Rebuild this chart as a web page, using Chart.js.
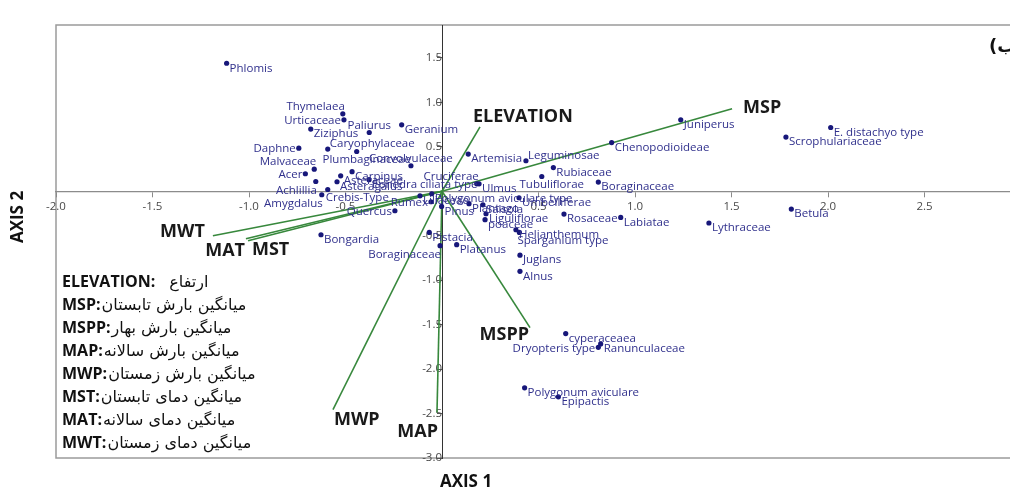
<!DOCTYPE html>
<html>
<head>
<meta charset="utf-8">
<script src="https://cdn.jsdelivr.net/npm/chart.js@4"></script>
<style>
  html, body { margin: 0; padding: 0; background: #fff; overflow: hidden; }
  #wrap { width: 1024px; height: 496px; }
</style>
</head>
<body>
<div id="wrap"><canvas id="biplot" width="1024" height="496"></canvas></div>
<script>
// taxa scores on the first two axes
var taxa = [
    'Phlomis', 'Thymelaea', 'Urticaceae', 'Ziziphus', 'Paliurus', 'Geranium', 'Daphne',
    'Caryophylaceae', 'Plumbaginaceae', 'Convolvulaceae', 'Malvaceae', 'Acer', 'Achlillia',
    'Crebis-Type', 'Amygdalus', 'Carpinus', 'Asteraceae', 'Asteragalus', 'Ephedra ciliata type',
    'Cruciferae', 'Ulmus', 'Artemisia', 'Leguminosae', 'Rubiaceae', 'Chenopodioideae',
    'Juniperus', 'Scrophulariaceae', 'E. distachyo type', 'Tubuliflorae', 'Boraginaceae',
    'Polygonum aviculare type', 'Umbelliferae', 'Rumex', 'Liliaceae', 'Pinus', 'Plantago',
    'Salsola', 'Liguliflorae', 'poaceae', 'Rosaceae', 'Labiatae', 'Helianthemum',
    'Sparganium type', 'Juglans', 'Alnus', 'Pistacia', 'Platanus', 'Boraginaceae', 'Bongardia',
    'Quercus', 'Lythraceae', 'Betula', 'cyperaceaea', 'Ranunculaceae', 'Dryopteris type',
    'Polygonum aviculare', 'Epipactis'
];
var axis1 = [
    -1.116, -0.514, -0.508, -0.680, -0.377, -0.209, -0.742,
    -0.592, -0.442, -0.161, -0.662, -0.708, -0.654,
    -0.592, -0.623, -0.466, -0.525, -0.544, -0.378,
    0.180, 0.192, 0.136, 0.435, 0.577, 0.879,
    1.237, 1.782, 2.014, 0.517, 0.810,
    -0.053, 0.399, -0.057, -0.114, -0.002, 0.140,
    0.212, 0.228, 0.223, 0.632, 0.926, 0.383,
    0.401, 0.404, 0.404, -0.066, 0.076, -0.010, -0.627,
    -0.244, 1.383, 1.810, 0.641, 0.822, 0.810,
    0.428, 0.603
];
var axis2 = [
    1.440, 0.871, 0.803, 0.699, 0.661, 0.747, 0.485,
    0.474, 0.447, 0.287, 0.249, 0.197, 0.110,
    0.020, -0.039, 0.220, 0.174, 0.107, 0.130,
    0.084, 0.084, 0.418, 0.343, 0.267, 0.548,
    0.803, 0.609, 0.717, 0.166, 0.103,
    -0.028, -0.073, -0.118, -0.051, -0.171, -0.140,
    -0.152, -0.253, -0.320, -0.256, -0.294, -0.433,
    -0.463, -0.719, -0.901, -0.463, -0.601, -0.612, -0.489,
    -0.219, -0.357, -0.200, -1.601, -1.717, -1.755,
    -2.211, -2.312
];

// environmental variables (arrow tips)
var variables = ['ELEVATION', 'MSP', 'MSPP', 'MAP', 'MWP', 'MST', 'MAT', 'MWT'];
var varAxis1 = [0.197, 1.503, 0.456, -0.026, -0.565, -1.016, -1.005, -1.187];
var varAxis2 = [0.725, 0.927, -1.534, -2.489, -2.455, -0.534, -0.556, -0.500];

var legendNames = [
    'ارتفاع', 'میانگین بارش تابستان', 'میانگین بارش بهار', 'میانگین بارش سالانه',
    'میانگین بارش زمستان', 'میانگین دمای تابستان', 'میانگین دمای سالانه', 'میانگین دمای زمستان'
];

var xTickValues = [-2.0, -1.5, -1.0, -0.5, 0, 0.5, 1.0, 1.5, 2.0, 2.5];
var yTickValues = [1.5, 1.0, 0.5, 0, -0.5, -1.0, -1.5, -2.0, -2.5, -3.0];

// where each taxon name sits around its dot
var labelSide = [
    'r', 'lu', 'l', 'r', 'u', 'r', 'l',
    'ru', 'd', 'u', 'lu', 'l', 'ld',
    'rd', 'ld', 'r', 'r', 'r', 'r',
    'lu', 'r', 'r', 'ru', 'r', 'r',
    'r', 'r', 'r', 'd', 'r',
    'r', 'r', 'l', 'r', 'r', 'r',
    'r', 'r', 'r', 'r', 'r', 'r',
    'rd', 'r', 'r', 'r', 'r', 'ld', 'r',
    'l', 'r', 'r', 'r', 'r', 'l',
    'r', 'r'
];

function placeLabel(side, x, y) {
    switch (side) {
        case 'l': return {align: 'right', x: x - 3, y: y + 1};
        case 'lu': return {align: 'right', x: x + 2, y: y - 7};
        case 'ld': return {align: 'right', x: x + 1, y: y + 9};
        case 'ru': return {align: 'left', x: x + 2, y: y - 5};
        case 'rd': return {align: 'left', x: x - 2, y: y + 8};
        case 'u': return {align: 'center', x: x, y: y - 7};
        case 'd': return {align: 'center', x: x + 10, y: y + 8};
        default: return {align: 'left', x: x + 3, y: y + 5};
    }
}

// label offsets for the arrow names
var varLabelAt = {
    ELEVATION: ['left', -7, -10],
    MSP: ['left', 11, -1],
    MSPP: ['right', -1, 7],
    MAP: ['right', 1, 19],
    MWP: ['left', 1, 10],
    MST: ['left', 6, 11],
    MAT: ['right', -3, 10],
    MWT: ['right', -8, -4]
};

var decor = {
    id: 'decor',
    beforeDraw: function(chart) {
        var ctx = chart.ctx, a = chart.chartArea;
        ctx.save();
        ctx.fillStyle = '#fff';
        ctx.fillRect(0, 0, chart.width, chart.height);
        ctx.strokeStyle = '#9b9b9b';
        ctx.lineWidth = 1.5;
        ctx.strokeRect(a.left, a.top, a.right - a.left, a.bottom - a.top);
        ctx.restore();
    },
    afterDatasetsDraw: function(chart) {
        var ctx = chart.ctx;
        var xs = chart.scales.x, ys = chart.scales.y;
        ctx.save();

        // taxa names
        var meta = chart.getDatasetMeta(0);
        ctx.font = '11.5px "Open Sans"';
        ctx.fillStyle = '#30308c';
        ctx.textBaseline = 'middle';
        meta.data.forEach(function(pt, i) {
            var p = placeLabel(labelSide[i], pt.x, pt.y);
            ctx.textAlign = p.align;
            ctx.fillText(taxa[i], p.x, p.y);
        });

        // arrow names
        ctx.font = 'bold 18px "Open Sans"';
        ctx.fillStyle = '#1a1a1a';
        variables.forEach(function(v, i) {
            var at = varLabelAt[v];
            ctx.textAlign = at[0];
            ctx.fillText(v, xs.getPixelForValue(varAxis1[i]) + at[1], ys.getPixelForValue(varAxis2[i]) + at[2]);
        });

        // legend block
        for (var i = 0; i < variables.length; i++) {
            var y = 282 + i * 23;
            var code = variables[i] + ':';
            ctx.font = 'bold 16px "Open Sans"';
            ctx.fillStyle = '#111';
            ctx.textAlign = 'left';
            ctx.direction = 'ltr';
            ctx.fillText(code, 62, y);
            var w = ctx.measureText(code).width + (i === 0 ? 14 : 1);
            ctx.font = '16px "DejaVu Sans"';
            ctx.direction = 'rtl';
            ctx.textAlign = 'left';
            ctx.fillText(legendNames[i], 62 + w, y + 1);
        }
        ctx.direction = 'ltr';

        // panel letter
        ctx.font = 'bold 18px "DejaVu Sans"';
        ctx.textAlign = 'left';
        ctx.fillStyle = '#111';
        ctx.fillText('(ب', 989, 47);

        // axis titles
        ctx.font = 'bold 17px "Open Sans"';
        ctx.textAlign = 'center';
        ctx.fillText('AXIS 1', 466, 482);
        ctx.translate(18, 217);
        ctx.rotate(-Math.PI / 2);
        ctx.fillText('AXIS 2', 0, 0);
        ctx.restore();
    }
};

function tickText(v) {
    return v === 0 ? '' : v.toFixed(1);
}

var datasets = [{
    label: 'taxa',
    data: taxa.map(function(t, i) { return {x: axis1[i], y: axis2[i]}; }),
    pointRadius: 2.6,
    pointHoverRadius: 2.6,
    pointBackgroundColor: '#17177a',
    pointBorderColor: '#17177a',
    pointBorderWidth: 0,
    order: 0
}];
variables.forEach(function(v, i) {
    datasets.push({
        label: v,
        data: [{x: 0, y: 0}, {x: varAxis1[i], y: varAxis2[i]}],
        showLine: true,
        borderColor: '#37883c',
        borderWidth: 1.6,
        pointRadius: 0,
        order: 1
    });
});

new Chart(document.getElementById('biplot').getContext('2d'), {
    type: 'scatter',
    data: {datasets: datasets},
    options: {
        responsive: false,
        animation: false,
        devicePixelRatio: 1,
        layout: {
            autoPadding: false,
            padding: {left: 56, top: 25, right: 3, bottom: 38}
        },
        plugins: {
            legend: {display: false},
            tooltip: {enabled: false}
        },
        scales: {
            x: {
                type: 'linear',
                min: -2.0,
                max: 3.0,
                position: {y: 0},
                afterBuildTicks: function(scale) {
                    scale.ticks = xTickValues.map(function(v) { return {value: v}; });
                },
                ticks: {
                    callback: tickText,
                    font: {family: 'Open Sans', size: 11.5},
                    color: '#4a4a4a',
                    padding: 4,
                    maxRotation: 0,
                    autoSkip: false
                },
                grid: {display: true, drawOnChartArea: false, drawTicks: true, tickLength: 5, color: '#8a8a8a'},
                border: {display: true, color: '#8c8c8c', width: 1.3}
            },
            y: {
                type: 'linear',
                min: -3.0,
                max: 1.87,
                position: {x: 0},
                afterBuildTicks: function(scale) {
                    scale.ticks = yTickValues.map(function(v) { return {value: v}; });
                },
                ticks: {
                    callback: tickText,
                    font: {family: 'Open Sans', size: 11.5},
                    color: '#4a4a4a',
                    padding: 1,
                    autoSkip: false
                },
                grid: {display: true, drawOnChartArea: false, drawTicks: true, tickLength: 5, color: '#555'},
                border: {display: true, color: '#333', width: 1}
            }
        }
    },
    plugins: [decor]
});
</script>
</body>
</html>
